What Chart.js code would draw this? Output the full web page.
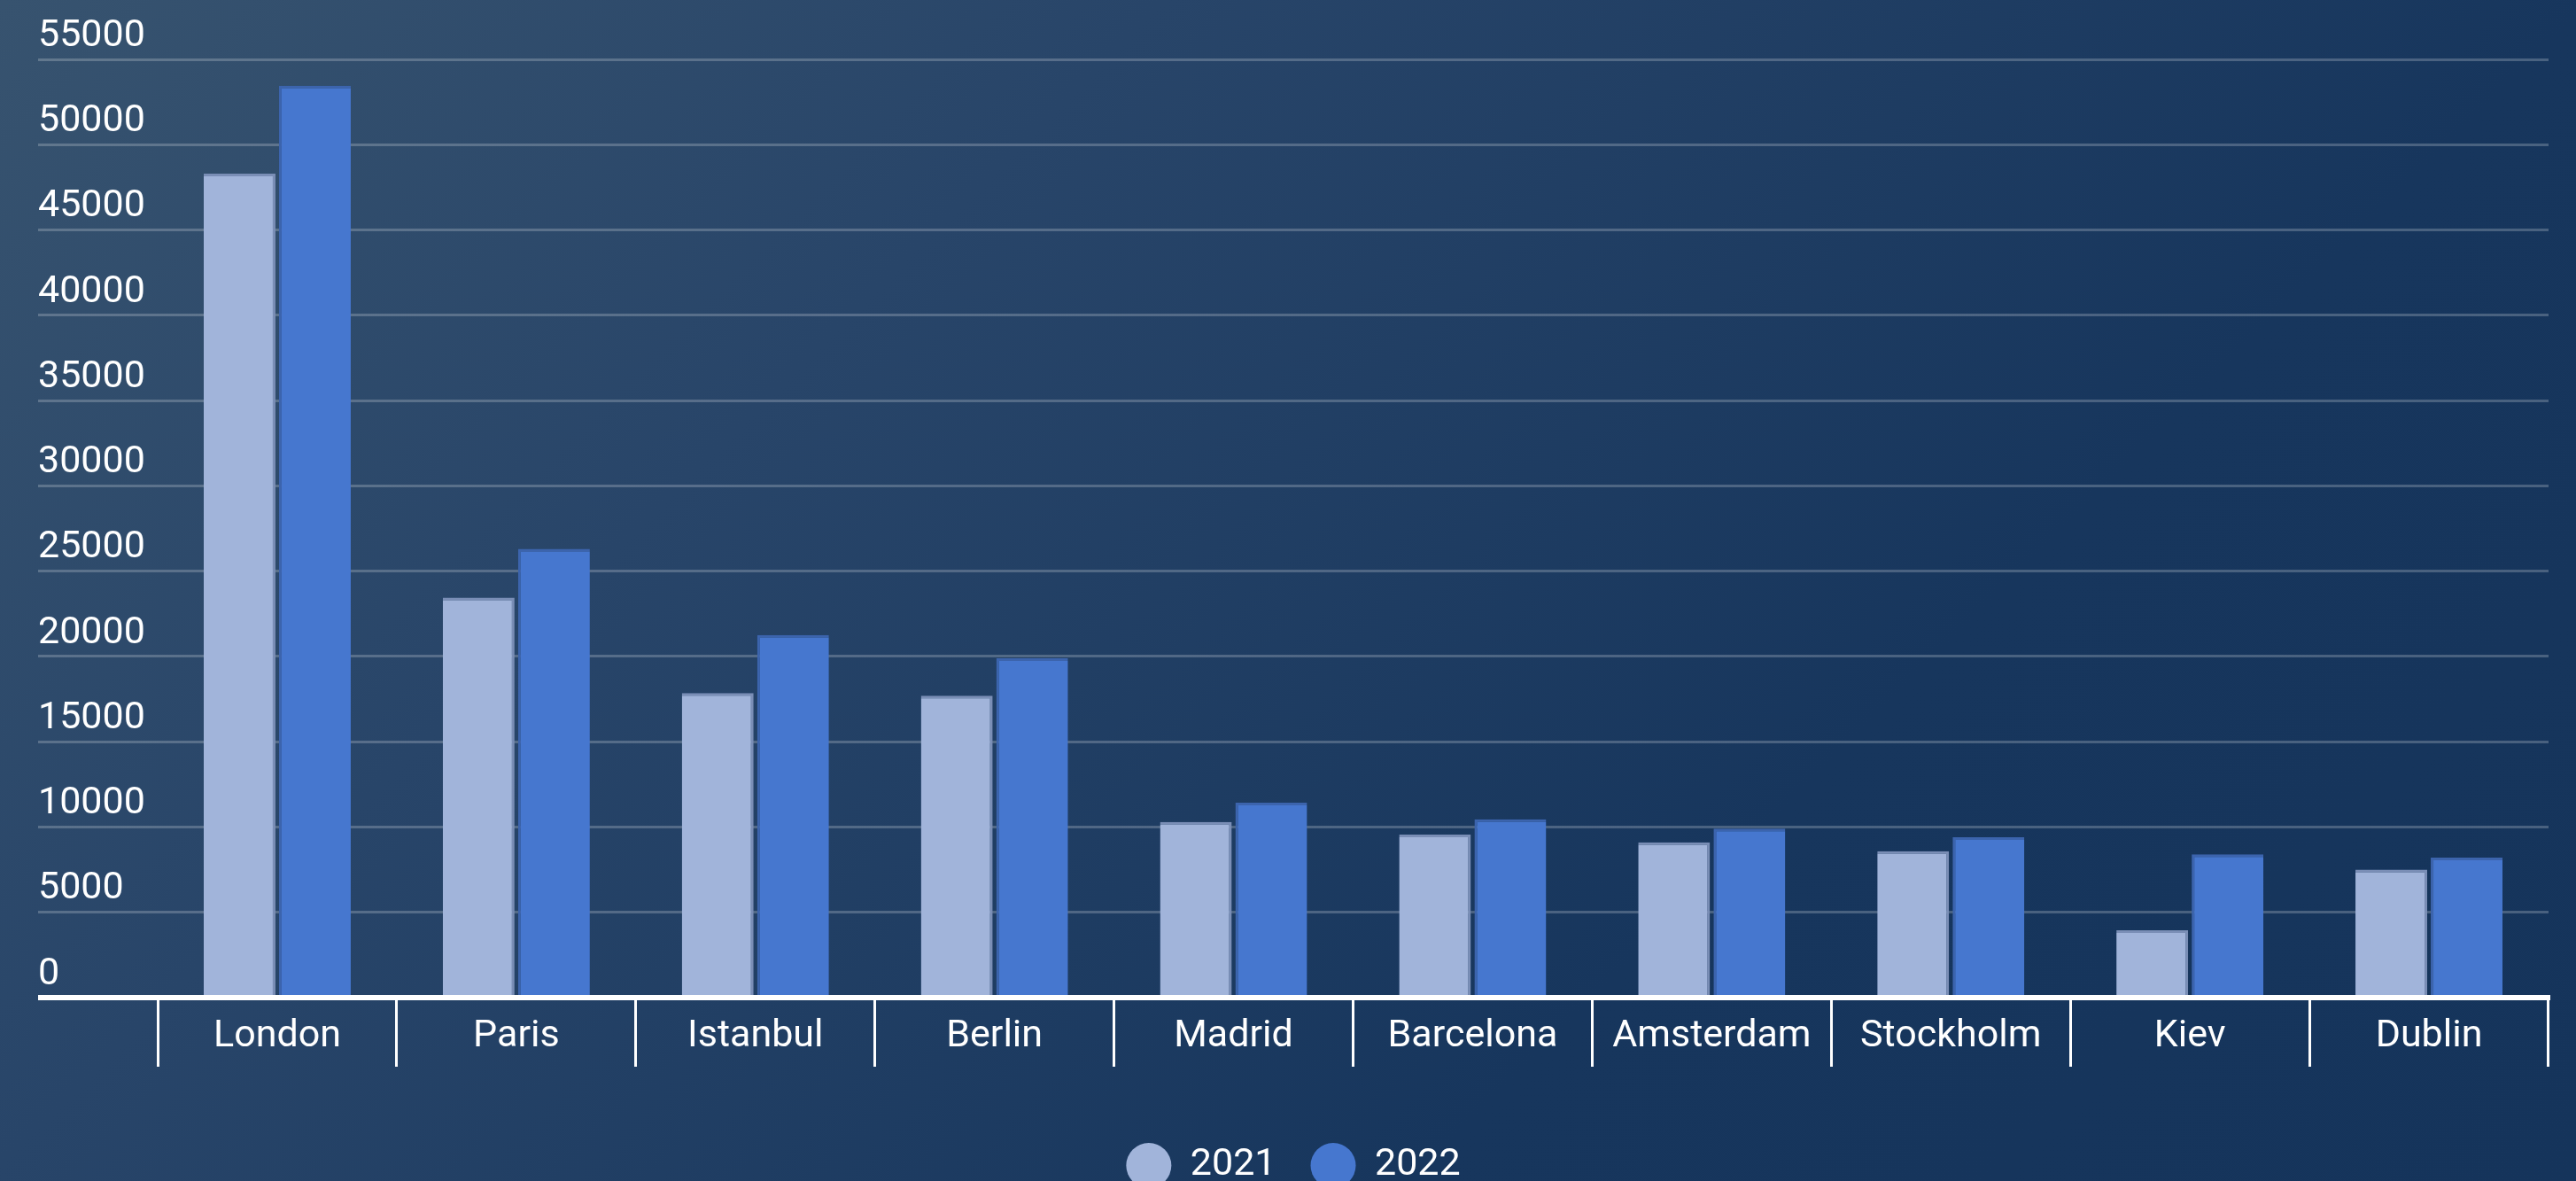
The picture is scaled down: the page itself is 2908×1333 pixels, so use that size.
<!DOCTYPE html>
<html>
<head>
<meta charset="utf-8">
<title>City bars 2021 / 2022</title>
<script src="https://cdn.jsdelivr.net/npm/chart.js@4.4.1/dist/chart.umd.min.js"></script>
<style>
  html, body { margin: 0; padding: 0; }
  body {
    width: 2908px;
    height: 1333px;
    overflow: hidden;
    background: linear-gradient(135deg, #37536f 0%, #284569 31%, #17365d 69%, #15345b 100%);
  }
  #wrap { position: relative; width: 2908px; height: 1333px; }
</style>
</head>
<body>
<div id="wrap"><canvas id="cityChart"></canvas></div>
<script>
const cities = ['London', 'Paris', 'Istanbul', 'Berlin', 'Madrid', 'Barcelona', 'Amsterdam', 'Stockholm', 'Kiev', 'Dublin'];
const seriesNames = ['2021', '2022'];
const values2021 = [48300, 23450, 17850, 17700, 10300, 9550, 9100, 8580, 3950, 7500];
const values2022 = [53450, 26300, 21250, 19890, 11430, 10450, 9910, 9400, 8400, 8200];
const yTicks = [0, 5000, 10000, 15000, 20000, 25000, 30000, 35000, 40000, 45000, 50000, 55000];

const FONT = 'Roboto';
const gridColor = 'rgba(255,255,255,0.22)';

function buildChart() {
  Chart.defaults.font.family = FONT;
  Chart.defaults.font.size = 43;
  Chart.defaults.color = '#ffffff';

  const ctx = document.getElementById('cityChart').getContext('2d');

  new Chart(ctx, {
    type: 'bar',
    data: {
      labels: cities,
      datasets: [
        {
          label: seriesNames[0],
          data: values2021,
          backgroundColor: '#a1b4da',
          borderColor: '#7a8eb6',
          borderWidth: { top: 3, right: 3, left: 0, bottom: 0 },
          borderSkipped: false
        },
        {
          label: seriesNames[1],
          data: values2022,
          backgroundColor: '#4677cf',
          borderColor: '#3c64ad',
          borderWidth: { top: 3, left: 3, right: 0, bottom: 0 },
          borderSkipped: false
        }
      ]
    },
    options: {
      responsive: true,
      maintainAspectRatio: false,
      animation: false,
      categoryPercentage: 0.63,
      barPercentage: 0.953,
      layout: {
        padding: { left: 43, right: 31, top: 67, bottom: -18 }
      },
      scales: {
        x: {
          z: 1,
          afterFit: scale => { scale.height = 125; },
          grid: {
            drawOnChartArea: false,
            color: '#ffffff',
            lineWidth: 3,
            tickLength: 78
          },
          border: { display: true, color: '#ffffff', width: 6 },
          ticks: {
            color: '#ffffff',
            padding: -60,
            autoSkip: false,
            maxRotation: 0
          }
        },
        y: {
          min: 0,
          max: yTicks[yTicks.length - 1],
          afterBuildTicks: scale => { scale.ticks = yTicks.map(v => ({ value: v })); },
          afterFit: scale => { scale.width = 135; },
          border: { display: false },
          grid: {
            color: c => (c.tick && c.tick.value === 0 ? '#ffffff' : gridColor),
            lineWidth: c => (c.tick && c.tick.value === 0 ? 6 : 3),
            tickLength: 135
          },
          ticks: {
            color: '#ffffff',
            crossAlign: 'far',
            padding: 0,
            labelOffset: -26,
            callback: v => String(v)
          }
        }
      },
      plugins: {
        tooltip: { enabled: false },
        legend: {
          position: 'bottom',
          labels: {
            color: '#ffffff',
            font: { size: 43 },
            boxWidth: 51,
            boxHeight: 51,
            useBorderRadius: true,
            borderRadius: 25.5,
            padding: 39,
            generateLabels: chart =>
              Chart.defaults.plugins.legend.labels.generateLabels(chart)
                .map(item => Object.assign(item, { lineWidth: 0 }))
          }
        }
      }
    }
  });
}

if (document.fonts && document.fonts.load) {
  document.fonts.load('43px ' + FONT).then(buildChart, buildChart);
} else {
  buildChart();
}
</script>
</body>
</html>
